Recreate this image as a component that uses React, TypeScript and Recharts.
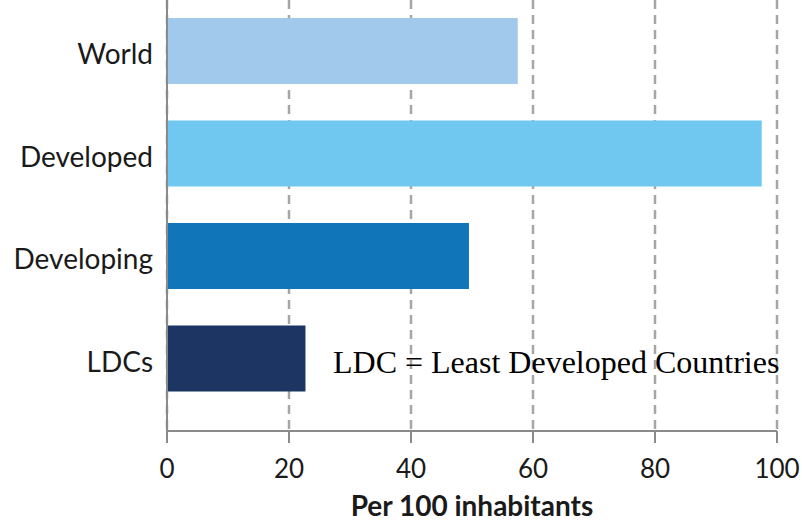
import { BarChart, Bar, XAxis, YAxis, CartesianGrid, Cell, Label } from "recharts"

const categories = ["World", "Developed", "Developing", "LDCs"]
const values = [57.5, 97.5, 49.5, 22.7]
const barColors = ["#A0C9EB", "#70C8F0", "#1076B9", "#1C3562"]
const xTicks = [0, 20, 40, 60, 80, 100]

const data = categories.map((name, i) => ({ name, value: values[i] }))

const axisColor = "#8a8a8a"
const textColor = "#1a1a1a"

export default function App() {
  return (
    <div style={{ position: "absolute", top: 0, left: 0, width: 802, height: 523, background: "#fff" }}>
      <BarChart
        width={802}
        height={523}
        data={data}
        layout="vertical"
        margin={{ top: 0, right: 25, bottom: 0, left: 0 }}
      >
        <CartesianGrid
          horizontal={false}
          stroke="#a6a6a6"
          strokeWidth={2.5}
          strokeDasharray="9 6"
        />
        <XAxis
          type="number"
          domain={[0, 100]}
          ticks={xTicks}
          height={92}
          stroke={axisColor}
          strokeWidth={2}
          tickSize={12}
          tickMargin={17}
          tick={{ fontSize: 26, fill: textColor, fontFamily: "Lato" }}
        >
          <Label
            value="Per 100 inhabitants"
            position="insideBottom"
            offset={7}
            style={{ fontSize: 28, fontWeight: 700, fill: textColor, fontFamily: "Lato" }}
          />
        </XAxis>
        <YAxis
          type="category"
          dataKey="name"
          width={167}
          padding={{ top: 0, bottom: 21 }}
          stroke={axisColor}
          strokeWidth={2}
          tickLine={false}
          tickSize={0}
          tickMargin={14}
          tick={{ fontSize: 28, fill: textColor, fontFamily: "Lato", dy: 3 }}
        />
        <Bar dataKey="value" barSize={66} isAnimationActive={false}>
          {data.map((d, i) => (
            <Cell key={d.name} fill={barColors[i]} />
          ))}
        </Bar>
      </BarChart>
      <div
        style={{
          position: "absolute",
          left: 333,
          top: 344,
          fontFamily: "'Liberation Serif', serif",
          fontSize: 32,
          color: "#000",
          whiteSpace: "nowrap",
          lineHeight: "36px",
        }}
      >
        LDC = Least Developed Countries
      </div>
    </div>
  )
}
